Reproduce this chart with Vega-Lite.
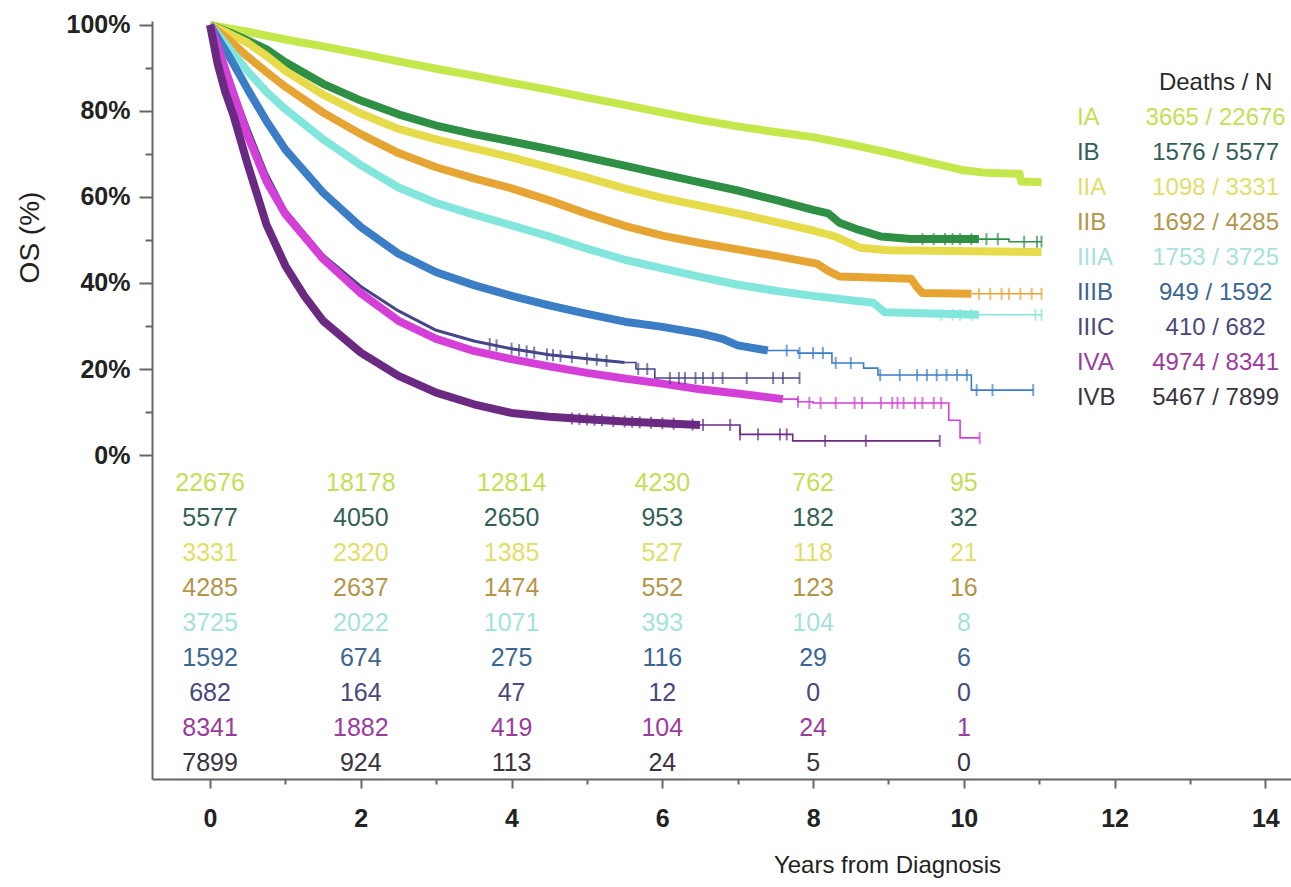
{
  "$schema": "https://vega.github.io/schema/vega-lite/v6.json",
  "width": 1139,
  "height": 758,
  "autosize": {"type": "none"},
  "padding": {"left": 152, "top": 21, "right": 0, "bottom": 108},
  "background": "white",
  "config": {"view": {"stroke": null}, "font": "Liberation Sans"},
  "datasets": {
    "curves": [
      {"stage":"IA","phase":"dense","t":0,"s":100},{"stage":"IA","phase":"dense","t":0.25,"s":99.2},{"stage":"IA","phase":"dense","t":0.5,"s":98.4},{"stage":"IA","phase":"dense","t":1,"s":96.6},{"stage":"IA","phase":"dense","t":1.5,"s":95},{"stage":"IA","phase":"dense","t":2,"s":93.3},{"stage":"IA","phase":"dense","t":2.5,"s":91.5},{"stage":"IA","phase":"dense","t":3,"s":89.8},{"stage":"IA","phase":"dense","t":3.5,"s":88.2},{"stage":"IA","phase":"dense","t":4,"s":86.5},{"stage":"IA","phase":"dense","t":4.5,"s":84.9},{"stage":"IA","phase":"dense","t":5,"s":83.1},{"stage":"IA","phase":"dense","t":5.5,"s":81.4},{"stage":"IA","phase":"dense","t":6,"s":79.6},{"stage":"IA","phase":"dense","t":6.5,"s":77.9},{"stage":"IA","phase":"dense","t":7,"s":76.4},{"stage":"IA","phase":"dense","t":7.5,"s":75.1},{"stage":"IA","phase":"dense","t":8,"s":73.9},{"stage":"IA","phase":"dense","t":8.5,"s":72.2},{"stage":"IA","phase":"dense","t":9,"s":70.3},{"stage":"IA","phase":"dense","t":9.5,"s":68.2},{"stage":"IA","phase":"dense","t":10,"s":66.2},{"stage":"IA","phase":"dense","t":10.3,"s":65.6},{"stage":"IA","phase":"dense","t":10.74,"s":65.4},{"stage":"IA","phase":"dense","t":10.76,"s":63.6},{"stage":"IA","phase":"dense","t":11.03,"s":63.4},

      {"stage":"IB","phase":"dense","t":0,"s":100},{"stage":"IB","phase":"dense","t":0.25,"s":98.3},{"stage":"IB","phase":"dense","t":0.5,"s":96.4},{"stage":"IB","phase":"dense","t":0.75,"s":94.3},{"stage":"IB","phase":"dense","t":1,"s":91.3},{"stage":"IB","phase":"dense","t":1.5,"s":86.3},{"stage":"IB","phase":"dense","t":2,"s":82.4},{"stage":"IB","phase":"dense","t":2.5,"s":79.2},{"stage":"IB","phase":"dense","t":3,"s":76.6},{"stage":"IB","phase":"dense","t":3.5,"s":74.6},{"stage":"IB","phase":"dense","t":4,"s":72.9},{"stage":"IB","phase":"dense","t":4.5,"s":71.1},{"stage":"IB","phase":"dense","t":5,"s":69.2},{"stage":"IB","phase":"dense","t":5.5,"s":67.3},{"stage":"IB","phase":"dense","t":6,"s":65.3},{"stage":"IB","phase":"dense","t":6.5,"s":63.4},{"stage":"IB","phase":"dense","t":7,"s":61.5},{"stage":"IB","phase":"dense","t":7.5,"s":59.3},{"stage":"IB","phase":"dense","t":8,"s":57},{"stage":"IB","phase":"dense","t":8.2,"s":56.2},{"stage":"IB","phase":"dense","t":8.35,"s":54},{"stage":"IB","phase":"dense","t":8.6,"s":52.4},{"stage":"IB","phase":"dense","t":8.9,"s":50.8},{"stage":"IB","phase":"dense","t":9.3,"s":50.2},{"stage":"IB","phase":"dense","t":10.2,"s":50.2},
      {"stage":"IB","phase":"tail","t":10.2,"s":50.2},{"stage":"IB","phase":"tail","t":10.6,"s":49.6},{"stage":"IB","phase":"tail","t":11.03,"s":49.6},

      {"stage":"IIA","phase":"dense","t":0,"s":100},{"stage":"IIA","phase":"dense","t":0.25,"s":98},{"stage":"IIA","phase":"dense","t":0.5,"s":95.8},{"stage":"IIA","phase":"dense","t":0.75,"s":92.8},{"stage":"IIA","phase":"dense","t":1,"s":89.3},{"stage":"IIA","phase":"dense","t":1.5,"s":83.8},{"stage":"IIA","phase":"dense","t":2,"s":79.4},{"stage":"IIA","phase":"dense","t":2.5,"s":75.8},{"stage":"IIA","phase":"dense","t":3,"s":73.4},{"stage":"IIA","phase":"dense","t":3.5,"s":71.3},{"stage":"IIA","phase":"dense","t":4,"s":69.2},{"stage":"IIA","phase":"dense","t":4.5,"s":66.9},{"stage":"IIA","phase":"dense","t":5,"s":64.5},{"stage":"IIA","phase":"dense","t":5.5,"s":62},{"stage":"IIA","phase":"dense","t":6,"s":59.8},{"stage":"IIA","phase":"dense","t":6.5,"s":58},{"stage":"IIA","phase":"dense","t":7,"s":56.2},{"stage":"IIA","phase":"dense","t":7.5,"s":54.2},{"stage":"IIA","phase":"dense","t":8,"s":52.2},{"stage":"IIA","phase":"dense","t":8.3,"s":50.8},{"stage":"IIA","phase":"dense","t":8.62,"s":48.2},{"stage":"IIA","phase":"dense","t":9,"s":47.6},{"stage":"IIA","phase":"dense","t":11.03,"s":47.2},

      {"stage":"IIB","phase":"dense","t":0,"s":100},{"stage":"IIB","phase":"dense","t":0.25,"s":96.5},{"stage":"IIB","phase":"dense","t":0.5,"s":92.6},{"stage":"IIB","phase":"dense","t":0.75,"s":89},{"stage":"IIB","phase":"dense","t":1,"s":85.6},{"stage":"IIB","phase":"dense","t":1.5,"s":79.6},{"stage":"IIB","phase":"dense","t":2,"s":74.6},{"stage":"IIB","phase":"dense","t":2.5,"s":70.2},{"stage":"IIB","phase":"dense","t":3,"s":66.9},{"stage":"IIB","phase":"dense","t":3.5,"s":64.3},{"stage":"IIB","phase":"dense","t":4,"s":62},{"stage":"IIB","phase":"dense","t":4.5,"s":59.2},{"stage":"IIB","phase":"dense","t":5,"s":56.1},{"stage":"IIB","phase":"dense","t":5.5,"s":53.3},{"stage":"IIB","phase":"dense","t":6,"s":51},{"stage":"IIB","phase":"dense","t":6.5,"s":49.3},{"stage":"IIB","phase":"dense","t":7,"s":47.8},{"stage":"IIB","phase":"dense","t":7.5,"s":46.3},{"stage":"IIB","phase":"dense","t":7.8,"s":45.3},{"stage":"IIB","phase":"dense","t":8.05,"s":44.5},{"stage":"IIB","phase":"dense","t":8.2,"s":42.8},{"stage":"IIB","phase":"dense","t":8.35,"s":41.5},{"stage":"IIB","phase":"dense","t":9.3,"s":41},{"stage":"IIB","phase":"dense","t":9.38,"s":39},{"stage":"IIB","phase":"dense","t":9.45,"s":37.7},{"stage":"IIB","phase":"dense","t":10.1,"s":37.5},
      {"stage":"IIB","phase":"tail","t":10.1,"s":37.5},{"stage":"IIB","phase":"tail","t":11.03,"s":37.5},

      {"stage":"IIIA","phase":"dense","t":0,"s":100},{"stage":"IIIA","phase":"dense","t":0.25,"s":94.6},{"stage":"IIIA","phase":"dense","t":0.5,"s":89.2},{"stage":"IIIA","phase":"dense","t":0.75,"s":84.4},{"stage":"IIIA","phase":"dense","t":1,"s":80.4},{"stage":"IIIA","phase":"dense","t":1.5,"s":73.4},{"stage":"IIIA","phase":"dense","t":2,"s":67.4},{"stage":"IIIA","phase":"dense","t":2.5,"s":62.2},{"stage":"IIIA","phase":"dense","t":3,"s":58.6},{"stage":"IIIA","phase":"dense","t":3.5,"s":55.9},{"stage":"IIIA","phase":"dense","t":4,"s":53.4},{"stage":"IIIA","phase":"dense","t":4.5,"s":50.8},{"stage":"IIIA","phase":"dense","t":5,"s":48},{"stage":"IIIA","phase":"dense","t":5.5,"s":45.4},{"stage":"IIIA","phase":"dense","t":6,"s":43.4},{"stage":"IIIA","phase":"dense","t":6.5,"s":41.4},{"stage":"IIIA","phase":"dense","t":7,"s":39.6},{"stage":"IIIA","phase":"dense","t":7.5,"s":38.2},{"stage":"IIIA","phase":"dense","t":8,"s":37},{"stage":"IIIA","phase":"dense","t":8.5,"s":36},{"stage":"IIIA","phase":"dense","t":8.8,"s":35.4},{"stage":"IIIA","phase":"dense","t":8.95,"s":33.2},{"stage":"IIIA","phase":"dense","t":10.2,"s":32.6},
      {"stage":"IIIA","phase":"tail","t":10.2,"s":32.6},{"stage":"IIIA","phase":"tail","t":11.03,"s":32.6},

      {"stage":"IIIB","phase":"dense","t":0,"s":100},{"stage":"IIIB","phase":"dense","t":0.1,"s":97},{"stage":"IIIB","phase":"dense","t":0.25,"s":92.8},{"stage":"IIIB","phase":"dense","t":0.5,"s":85},{"stage":"IIIB","phase":"dense","t":0.75,"s":77.6},{"stage":"IIIB","phase":"dense","t":1,"s":71},{"stage":"IIIB","phase":"dense","t":1.5,"s":61},{"stage":"IIIB","phase":"dense","t":2,"s":53},{"stage":"IIIB","phase":"dense","t":2.5,"s":46.8},{"stage":"IIIB","phase":"dense","t":3,"s":42.5},{"stage":"IIIB","phase":"dense","t":3.5,"s":39.5},{"stage":"IIIB","phase":"dense","t":4,"s":37},{"stage":"IIIB","phase":"dense","t":4.5,"s":34.8},{"stage":"IIIB","phase":"dense","t":5,"s":32.8},{"stage":"IIIB","phase":"dense","t":5.5,"s":31},{"stage":"IIIB","phase":"dense","t":6,"s":29.8},{"stage":"IIIB","phase":"dense","t":6.5,"s":28.3},{"stage":"IIIB","phase":"dense","t":6.8,"s":27},{"stage":"IIIB","phase":"dense","t":7,"s":25.5},{"stage":"IIIB","phase":"dense","t":7.4,"s":24.3},
      {"stage":"IIIB","phase":"tail","t":7.4,"s":24.3},{"stage":"IIIB","phase":"tail","t":7.8,"s":23.7},{"stage":"IIIB","phase":"tail","t":8.25,"s":21.4},{"stage":"IIIB","phase":"tail","t":8.67,"s":20.2},{"stage":"IIIB","phase":"tail","t":8.86,"s":18.6},{"stage":"IIIB","phase":"tail","t":10.1,"s":15.1},{"stage":"IIIB","phase":"tail","t":10.92,"s":15.1},

      {"stage":"IIIC","phase":"dense","t":0,"s":100},{"stage":"IIIC","phase":"dense","t":0.1,"s":95.5},{"stage":"IIIC","phase":"dense","t":0.25,"s":88.3},{"stage":"IIIC","phase":"dense","t":0.5,"s":76.5},{"stage":"IIIC","phase":"dense","t":0.75,"s":65.5},{"stage":"IIIC","phase":"dense","t":1,"s":57},{"stage":"IIIC","phase":"dense","t":1.5,"s":46.5},{"stage":"IIIC","phase":"dense","t":2,"s":39.2},{"stage":"IIIC","phase":"dense","t":2.5,"s":33.5},{"stage":"IIIC","phase":"dense","t":3,"s":29},{"stage":"IIIC","phase":"dense","t":3.5,"s":26.5},{"stage":"IIIC","phase":"dense","t":4,"s":24.7},{"stage":"IIIC","phase":"dense","t":4.5,"s":23.3},{"stage":"IIIC","phase":"dense","t":5,"s":22.4},{"stage":"IIIC","phase":"dense","t":5.5,"s":21.5},
      {"stage":"IIIC","phase":"tail","t":5.5,"s":21.5},{"stage":"IIIC","phase":"tail","t":5.65,"s":20},{"stage":"IIIC","phase":"tail","t":5.9,"s":17.9},{"stage":"IIIC","phase":"tail","t":7.82,"s":17.9},

      {"stage":"IVA","phase":"dense","t":0,"s":100},{"stage":"IVA","phase":"dense","t":0.1,"s":95},{"stage":"IVA","phase":"dense","t":0.25,"s":87.2},{"stage":"IVA","phase":"dense","t":0.5,"s":74.2},{"stage":"IVA","phase":"dense","t":0.75,"s":63.6},{"stage":"IVA","phase":"dense","t":1,"s":56},{"stage":"IVA","phase":"dense","t":1.5,"s":45.6},{"stage":"IVA","phase":"dense","t":2,"s":37.6},{"stage":"IVA","phase":"dense","t":2.5,"s":31.2},{"stage":"IVA","phase":"dense","t":3,"s":27},{"stage":"IVA","phase":"dense","t":3.5,"s":24.2},{"stage":"IVA","phase":"dense","t":4,"s":22.3},{"stage":"IVA","phase":"dense","t":4.5,"s":20.6},{"stage":"IVA","phase":"dense","t":5,"s":19.1},{"stage":"IVA","phase":"dense","t":5.5,"s":17.8},{"stage":"IVA","phase":"dense","t":6,"s":16.6},{"stage":"IVA","phase":"dense","t":6.5,"s":15.3},{"stage":"IVA","phase":"dense","t":7,"s":14.3},{"stage":"IVA","phase":"dense","t":7.6,"s":13},
      {"stage":"IVA","phase":"tail","t":7.6,"s":13},{"stage":"IVA","phase":"tail","t":7.8,"s":12.4},{"stage":"IVA","phase":"tail","t":8,"s":12.1},{"stage":"IVA","phase":"tail","t":9.8,"s":8.1},{"stage":"IVA","phase":"tail","t":9.95,"s":4},{"stage":"IVA","phase":"tail","t":10.21,"s":4},

      {"stage":"IVB","phase":"dense","t":0,"s":100},{"stage":"IVB","phase":"dense","t":0.1,"s":91},{"stage":"IVB","phase":"dense","t":0.2,"s":84.5},{"stage":"IVB","phase":"dense","t":0.31,"s":79},{"stage":"IVB","phase":"dense","t":0.5,"s":67.5},{"stage":"IVB","phase":"dense","t":0.75,"s":53.5},{"stage":"IVB","phase":"dense","t":1,"s":44},{"stage":"IVB","phase":"dense","t":1.25,"s":37},{"stage":"IVB","phase":"dense","t":1.5,"s":31.2},{"stage":"IVB","phase":"dense","t":2,"s":23.8},{"stage":"IVB","phase":"dense","t":2.5,"s":18.4},{"stage":"IVB","phase":"dense","t":3,"s":14.5},{"stage":"IVB","phase":"dense","t":3.5,"s":11.8},{"stage":"IVB","phase":"dense","t":4,"s":9.8},{"stage":"IVB","phase":"dense","t":4.5,"s":8.9},{"stage":"IVB","phase":"dense","t":5,"s":8.3},{"stage":"IVB","phase":"dense","t":5.5,"s":7.8},{"stage":"IVB","phase":"dense","t":6,"s":7.4},{"stage":"IVB","phase":"dense","t":6.5,"s":7},
      {"stage":"IVB","phase":"tail","t":6.5,"s":7},{"stage":"IVB","phase":"tail","t":7.03,"s":4.8},{"stage":"IVB","phase":"tail","t":7.73,"s":3.3},{"stage":"IVB","phase":"tail","t":9.68,"s":3.3}
    ],
    "censored": [
      {"stage":"IB","t":9.45,"s":50.2},{"stage":"IB","t":9.6,"s":50.2},{"stage":"IB","t":9.75,"s":50.2},{"stage":"IB","t":9.85,"s":50.2},{"stage":"IB","t":9.95,"s":50.2},{"stage":"IB","t":10.1,"s":50.2},{"stage":"IB","t":10.3,"s":50.2},{"stage":"IB","t":10.45,"s":50.2},{"stage":"IB","t":10.8,"s":49.6},{"stage":"IB","t":10.97,"s":49.6},{"stage":"IB","t":11.03,"s":49.6},
      {"stage":"IIB","t":10.2,"s":37.5},{"stage":"IIB","t":10.35,"s":37.5},{"stage":"IIB","t":10.5,"s":37.5},{"stage":"IIB","t":10.6,"s":37.5},{"stage":"IIB","t":10.75,"s":37.5},{"stage":"IIB","t":10.9,"s":37.5},{"stage":"IIB","t":11.03,"s":37.5},
      {"stage":"IIIA","t":9.7,"s":32.6},{"stage":"IIIA","t":9.85,"s":32.6},{"stage":"IIIA","t":9.95,"s":32.6},{"stage":"IIIA","t":10.1,"s":32.6},{"stage":"IIIA","t":10.95,"s":32.6},{"stage":"IIIA","t":11.03,"s":32.6},
      {"stage":"IIIB","t":7.65,"s":24.3},{"stage":"IIIB","t":7.82,"s":23.7},{"stage":"IIIB","t":8.0,"s":23.7},{"stage":"IIIB","t":8.13,"s":23.7},{"stage":"IIIB","t":8.3,"s":21.4},{"stage":"IIIB","t":8.5,"s":21.4},{"stage":"IIIB","t":8.89,"s":18.6},{"stage":"IIIB","t":9.15,"s":18.6},{"stage":"IIIB","t":9.38,"s":18.6},{"stage":"IIIB","t":9.51,"s":18.6},{"stage":"IIIB","t":9.64,"s":18.6},{"stage":"IIIB","t":9.77,"s":18.6},{"stage":"IIIB","t":9.91,"s":18.6},{"stage":"IIIB","t":10.04,"s":18.6},{"stage":"IIIB","t":10.17,"s":15.1},{"stage":"IIIB","t":10.38,"s":15.1},{"stage":"IIIB","t":10.92,"s":15.1},
      {"stage":"IIIC","t":3.71,"s":25.8},{"stage":"IIIC","t":3.8,"s":25.5},{"stage":"IIIC","t":4.0,"s":24.7},{"stage":"IIIC","t":4.1,"s":24.4},{"stage":"IIIC","t":4.2,"s":24.1},{"stage":"IIIC","t":4.3,"s":23.8},{"stage":"IIIC","t":4.47,"s":23.4},{"stage":"IIIC","t":4.55,"s":23.2},{"stage":"IIIC","t":4.65,"s":23},{"stage":"IIIC","t":4.8,"s":22.8},{"stage":"IIIC","t":5.0,"s":22.4},{"stage":"IIIC","t":5.13,"s":22.2},{"stage":"IIIC","t":5.26,"s":21.9},{"stage":"IIIC","t":5.68,"s":20},{"stage":"IIIC","t":5.8,"s":20},{"stage":"IIIC","t":6.1,"s":17.9},{"stage":"IIIC","t":6.22,"s":17.9},{"stage":"IIIC","t":6.3,"s":17.9},{"stage":"IIIC","t":6.44,"s":17.9},{"stage":"IIIC","t":6.54,"s":17.9},{"stage":"IIIC","t":6.67,"s":17.9},{"stage":"IIIC","t":6.8,"s":17.9},{"stage":"IIIC","t":7.12,"s":17.9},{"stage":"IIIC","t":7.47,"s":17.9},{"stage":"IIIC","t":7.6,"s":17.9},{"stage":"IIIC","t":7.82,"s":17.9},
      {"stage":"IVA","t":7.8,"s":12.4},{"stage":"IVA","t":7.95,"s":12.1},{"stage":"IVA","t":8.1,"s":12.1},{"stage":"IVA","t":8.3,"s":12.1},{"stage":"IVA","t":8.55,"s":12.1},{"stage":"IVA","t":8.65,"s":12.1},{"stage":"IVA","t":8.9,"s":12.1},{"stage":"IVA","t":9.05,"s":12.1},{"stage":"IVA","t":9.12,"s":12.1},{"stage":"IVA","t":9.2,"s":12.1},{"stage":"IVA","t":9.35,"s":12.1},{"stage":"IVA","t":9.45,"s":12.1},{"stage":"IVA","t":9.6,"s":12.1},{"stage":"IVA","t":9.7,"s":12.1},{"stage":"IVA","t":10.21,"s":4},
      {"stage":"IVB","t":4.8,"s":8.5},{"stage":"IVB","t":4.9,"s":8.4},{"stage":"IVB","t":5.0,"s":8.3},{"stage":"IVB","t":5.1,"s":8.2},{"stage":"IVB","t":5.2,"s":8.1},{"stage":"IVB","t":5.35,"s":7.9},{"stage":"IVB","t":5.5,"s":7.8},{"stage":"IVB","t":5.6,"s":7.7},{"stage":"IVB","t":5.7,"s":7.6},{"stage":"IVB","t":5.85,"s":7.5},{"stage":"IVB","t":6.0,"s":7.4},{"stage":"IVB","t":6.15,"s":7.3},{"stage":"IVB","t":6.4,"s":7.1},{"stage":"IVB","t":6.54,"s":7},{"stage":"IVB","t":6.9,"s":7},{"stage":"IVB","t":7.03,"s":4.8},{"stage":"IVB","t":7.27,"s":4.8},{"stage":"IVB","t":7.56,"s":4.8},{"stage":"IVB","t":7.65,"s":4.8},{"stage":"IVB","t":8.16,"s":3.3},{"stage":"IVB","t":8.7,"s":3.3},{"stage":"IVB","t":9.68,"s":3.3}
    ],
    "atRisk": [
      {"stage":"IA","year":0,"n":22676},{"stage":"IA","year":2,"n":18178},{"stage":"IA","year":4,"n":12814},{"stage":"IA","year":6,"n":4230},{"stage":"IA","year":8,"n":762},{"stage":"IA","year":10,"n":95},
      {"stage":"IB","year":0,"n":5577},{"stage":"IB","year":2,"n":4050},{"stage":"IB","year":4,"n":2650},{"stage":"IB","year":6,"n":953},{"stage":"IB","year":8,"n":182},{"stage":"IB","year":10,"n":32},
      {"stage":"IIA","year":0,"n":3331},{"stage":"IIA","year":2,"n":2320},{"stage":"IIA","year":4,"n":1385},{"stage":"IIA","year":6,"n":527},{"stage":"IIA","year":8,"n":118},{"stage":"IIA","year":10,"n":21},
      {"stage":"IIB","year":0,"n":4285},{"stage":"IIB","year":2,"n":2637},{"stage":"IIB","year":4,"n":1474},{"stage":"IIB","year":6,"n":552},{"stage":"IIB","year":8,"n":123},{"stage":"IIB","year":10,"n":16},
      {"stage":"IIIA","year":0,"n":3725},{"stage":"IIIA","year":2,"n":2022},{"stage":"IIIA","year":4,"n":1071},{"stage":"IIIA","year":6,"n":393},{"stage":"IIIA","year":8,"n":104},{"stage":"IIIA","year":10,"n":8},
      {"stage":"IIIB","year":0,"n":1592},{"stage":"IIIB","year":2,"n":674},{"stage":"IIIB","year":4,"n":275},{"stage":"IIIB","year":6,"n":116},{"stage":"IIIB","year":8,"n":29},{"stage":"IIIB","year":10,"n":6},
      {"stage":"IIIC","year":0,"n":682},{"stage":"IIIC","year":2,"n":164},{"stage":"IIIC","year":4,"n":47},{"stage":"IIIC","year":6,"n":12},{"stage":"IIIC","year":8,"n":0},{"stage":"IIIC","year":10,"n":0},
      {"stage":"IVA","year":0,"n":8341},{"stage":"IVA","year":2,"n":1882},{"stage":"IVA","year":4,"n":419},{"stage":"IVA","year":6,"n":104},{"stage":"IVA","year":8,"n":24},{"stage":"IVA","year":10,"n":1},
      {"stage":"IVB","year":0,"n":7899},{"stage":"IVB","year":2,"n":924},{"stage":"IVB","year":4,"n":113},{"stage":"IVB","year":6,"n":24},{"stage":"IVB","year":8,"n":5},{"stage":"IVB","year":10,"n":0}
    ],
    "summary": [
      {"stage":"IA","deaths":3665,"n":22676},
      {"stage":"IB","deaths":1576,"n":5577},
      {"stage":"IIA","deaths":1098,"n":3331},
      {"stage":"IIB","deaths":1692,"n":4285},
      {"stage":"IIIA","deaths":1753,"n":3725},
      {"stage":"IIIB","deaths":949,"n":1592},
      {"stage":"IIIC","deaths":410,"n":682},
      {"stage":"IVA","deaths":4974,"n":8341},
      {"stage":"IVB","deaths":5467,"n":7899}
    ]
  },
  "layer": [
    {
      "encoding": {
        "x": {
          "field": "t", "type": "quantitative",
          "scale": {"domain": [-0.77, 14.34], "nice": false, "zero": false},
          "axis": {
            "values": [0,1,2,3,4,5,6,7,8,9,10,11,12,13,14],
            "labelExpr": "datum.value % 2 === 0 ? datum.label : ''",
            "tickSize": {"condition": {"test": "datum.value % 2 !== 0", "value": 5}, "value": 9},
            "tickColor": "#666", "tickWidth": 2,
            "domainColor": "#666", "domainWidth": 2,
            "grid": false,
            "labelFont": "Liberation Sans", "labelFontSize": 25, "labelFontWeight": "bold", "labelColor": "#222",
            "labelPadding": 18, "labelFlush": false, "labelOverlap": false,
            "title": "Years from Diagnosis",
            "titleFont": "Liberation Sans", "titleFontSize": 24, "titleFontWeight": "normal", "titleColor": "#222",
            "titleX": 735, "titleY": 86, "titleAlign": "center", "titleBaseline": "middle"
          }
        },
        "y": {
          "field": "s", "type": "quantitative",
          "scale": {"domain": [-75.3, 100.9], "nice": false, "zero": false},
          "axis": {
            "values": [0,10,20,30,40,50,60,70,80,90,100],
            "labelExpr": "datum.value % 20 === 0 ? datum.value + '%' : ''",
            "tickSize": {"condition": {"test": "datum.value % 20 !== 0", "value": 7}, "value": 13},
            "tickColor": "#666", "tickWidth": 2,
            "domainColor": "#666", "domainWidth": 2,
            "grid": false,
            "labelFont": "Liberation Sans", "labelFontSize": 25, "labelFontWeight": "bold", "labelColor": "#222",
            "labelPadding": 9, "labelOverlap": false,
            "title": "OS (%)",
            "titleFont": "Liberation Sans", "titleFontSize": 28, "titleFontWeight": "normal", "titleColor": "#222",
            "titleAngle": -90, "titleX": -122, "titleY": 216, "titleAlign": "center", "titleBaseline": "middle"
          }
        },
        "color": {
          "field": "stage", "type": "nominal",
          "scale": {
            "domain": ["IA","IB","IIA","IIB","IIIA","IIIB","IIIC","IVA","IVB"],
            "range": ["#c4e84c","#2f8f45","#e6db4b","#e6a533","#83e6dd","#3b7ec6","#45458a","#d43fd8","#6b2a82"]
          },
          "legend": null
        }
      },
      "layer": [
        {
          "data": {"name": "curves"},
          "transform": [{"filter": "datum.phase === 'dense'"}],
          "mark": {"type": "line", "interpolate": "linear", "strokeCap": "butt", "strokeJoin": "round"},
          "encoding": {
            "strokeWidth": {"condition": {"test": "datum.stage === 'IIIC'", "value": 3}, "value": 8}
          }
        },
        {
          "data": {"name": "curves"},
          "transform": [{"filter": "datum.phase === 'tail'"}],
          "mark": {"type": "line", "interpolate": "step-after", "strokeWidth": 1.6}
        },
        {
          "data": {"name": "censored"},
          "mark": {"type": "tick", "orient": "vertical", "size": 12, "thickness": 2}
        }
      ]
    },
    {
      "data": {"name": "atRisk"},
      "mark": {"type": "text", "font": "Liberation Sans", "fontSize": 25, "align": "center", "baseline": "middle"},
      "encoding": {
        "x": {"field": "year", "type": "quantitative", "scale": {"domain": [-0.77, 14.34], "nice": false, "zero": false}, "axis": null},
        "y": {"field": "stage", "type": "nominal",
              "scale": {"type": "point", "padding": 0, "domain": ["IA","IB","IIA","IIB","IIIA","IIIB","IIIC","IVA","IVB"], "range": [462, 742]},
              "axis": null},
        "text": {"field": "n", "type": "nominal"},
        "color": {
          "field": "stage", "type": "nominal",
          "scale": {
            "domain": ["IA","IB","IIA","IIB","IIIA","IIIB","IIIC","IVA","IVB"],
            "range": ["#c3df55","#345f58","#e2de6a","#b3964a","#a5e2dc","#3c6592","#48487c","#9a3c9c","#3a3340"]
          },
          "legend": null
        }
      }
    },
    {
      "encoding": {
        "y": {"field": "stage", "type": "nominal",
              "scale": {"type": "point", "padding": 0, "domain": ["Deaths / N","IA","IB","IIA","IIB","IIIA","IIIB","IIIC","IVA","IVB"], "range": [62, 377]},
              "axis": null},
        "color": {
          "field": "stage", "type": "nominal",
          "scale": {
            "domain": ["Deaths / N","IA","IB","IIA","IIB","IIIA","IIIB","IIIC","IVA","IVB"],
            "range": ["#2a2a2a","#c3df55","#345f58","#e2de6a","#b3964a","#a5e2dc","#3c6592","#48487c","#9a3c9c","#3a3340"]
          },
          "legend": null
        }
      },
      "layer": [
        {
          "data": {"name": "summary"},
          "mark": {"type": "text", "font": "Liberation Sans", "fontSize": 24, "align": "left", "baseline": "middle"},
          "encoding": {
            "x": {"datum": 11.5, "type": "quantitative", "scale": {"domain": [-0.77, 14.34], "nice": false, "zero": false}, "axis": null},
            "text": {"field": "stage", "type": "nominal"}
          }
        },
        {
          "data": {"name": "summary"},
          "transform": [{"calculate": "datum.deaths + ' / ' + datum.n", "as": "label"}],
          "mark": {"type": "text", "font": "Liberation Sans", "fontSize": 24, "align": "center", "baseline": "middle"},
          "encoding": {
            "x": {"datum": 13.34, "type": "quantitative", "scale": {"domain": [-0.77, 14.34], "nice": false, "zero": false}, "axis": null},
            "text": {"field": "label", "type": "nominal"}
          }
        },
        {
          "data": {"values": [{"stage": "Deaths / N"}]},
          "mark": {"type": "text", "font": "Liberation Sans", "fontSize": 24, "align": "center", "baseline": "middle"},
          "encoding": {
            "x": {"datum": 13.34, "type": "quantitative", "scale": {"domain": [-0.77, 14.34], "nice": false, "zero": false}, "axis": null},
            "text": {"field": "stage", "type": "nominal"}
          }
        }
      ]
    }
  ],
  "resolve": {"scale": {"y": "independent", "color": "independent"}, "axis": {"x": "independent"}}
}
